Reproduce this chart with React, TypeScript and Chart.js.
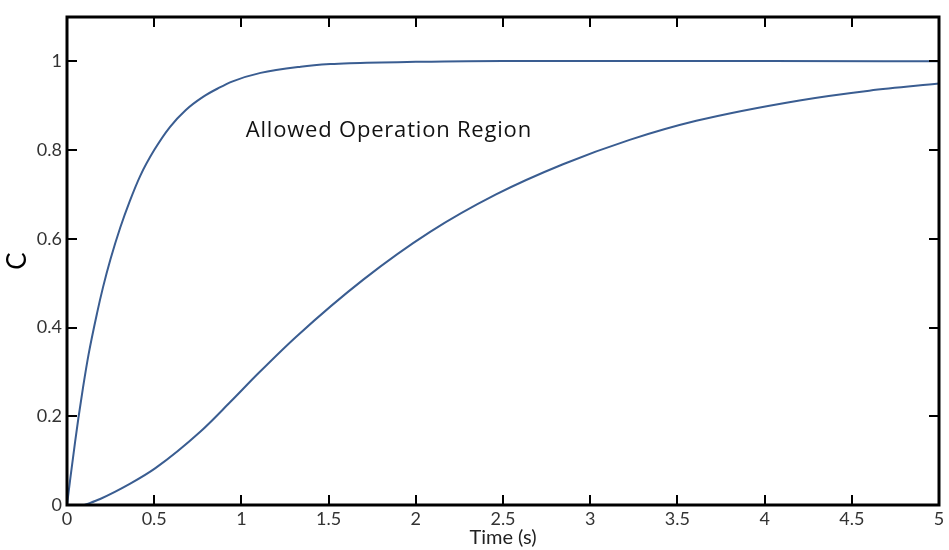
import React, { useEffect, useRef } from "react";
import { Chart, registerables } from "chart.js";

Chart.register(...registerables);

// Fast response (upper boundary)
const fastTimes = [0, 0.019, 0.047, 0.065, 0.092, 0.124, 0.172, 0.206, 0.25, 0.305, 0.36, 0.42, 0.5, 0.59, 0.68, 0.78, 0.87, 0.95, 1.11, 1.34, 1.51, 1.62, 2.0, 2.5, 3.0, 4.0, 5.0];
const fastValues = [0, 0.06, 0.144, 0.195, 0.265, 0.34, 0.432, 0.49, 0.555, 0.625, 0.685, 0.742, 0.8, 0.852, 0.89, 0.92, 0.94, 0.955, 0.974, 0.988, 0.994, 0.996, 0.999, 1.001, 1.001, 1.001, 1.0];

// Slow response (lower boundary)
const slowTimes = [0.1, 0.19, 0.36, 0.507, 0.764, 0.936, 1.1, 1.316, 1.699, 2.08, 2.46, 2.844, 3.226, 3.608, 4.2, 4.6, 5.0];
const slowValues = [0, 0.0135, 0.0475, 0.083, 0.165, 0.232, 0.298, 0.38, 0.508, 0.615, 0.7, 0.768, 0.823, 0.866, 0.912, 0.934, 0.95];

const xTicks = [0, 0.5, 1, 1.5, 2, 2.5, 3, 3.5, 4, 4.5, 5];
const yTicks = [0, 0.2, 0.4, 0.6, 0.8, 1];

const annotationText = "Allowed Operation Region";
const annotationPos = { x: 1.025, y: 0.844 };

const LINE_COLOR = "#3a5d91";
const FONT = "Lato, 'Open Sans', sans-serif";

const framePlugin = {
  id: "frameTicks",
  afterDatasetsDraw(chart: any) {
    const { ctx, chartArea } = chart;
    const xs = chart.scales.x;
    const ys = chart.scales.y;
    const { left, right, top, bottom } = chartArea;
    ctx.save();
    ctx.strokeStyle = "#000";
    ctx.lineWidth = 2;
    const len = 10;
    ctx.beginPath();
    xs.ticks.forEach((t: any) => {
      const px = Math.round(xs.getPixelForValue(t.value));
      ctx.moveTo(px, bottom);
      ctx.lineTo(px, bottom - len);
      ctx.moveTo(px, top);
      ctx.lineTo(px, top + len);
    });
    ys.ticks.forEach((t: any) => {
      const py = Math.round(ys.getPixelForValue(t.value));
      ctx.moveTo(left, py);
      ctx.lineTo(left + len, py);
      ctx.moveTo(right, py);
      ctx.lineTo(right - len, py);
    });
    ctx.stroke();
    ctx.lineWidth = 3;
    ctx.strokeRect(left, top, right - left, bottom - top);
    // annotation
    ctx.fillStyle = "#111";
    ctx.font = `22px 'Open Sans', sans-serif`;
    try {
      (ctx as any).letterSpacing = "0.8px";
    } catch (e) {}
    ctx.textAlign = "left";
    ctx.textBaseline = "middle";
    ctx.fillText(
      annotationText,
      xs.getPixelForValue(annotationPos.x),
      ys.getPixelForValue(annotationPos.y)
    );
    ctx.restore();
  },
};

export default function App() {
  const ref = useRef<HTMLCanvasElement | null>(null);
  useEffect(() => {
    document.body.style.margin = "0";
    const canvas = ref.current!;
    const chart = new Chart(canvas, {
      type: "line",
      data: {
        datasets: [
          {
            label: "Fast",
            data: fastTimes.map((t, i) => ({ x: t, y: fastValues[i] })),
            borderColor: LINE_COLOR,
            borderWidth: 2,
            pointRadius: 0,
            cubicInterpolationMode: "monotone",
            fill: false,
          },
          {
            label: "Slow",
            data: slowTimes.map((t, i) => ({ x: t, y: slowValues[i] })),
            borderColor: LINE_COLOR,
            borderWidth: 2,
            pointRadius: 0,
            cubicInterpolationMode: "monotone",
            fill: false,
          },
        ],
      },
      options: {
        responsive: false,
        animation: false,
        devicePixelRatio: 1,
        layout: { padding: { top: 17, right: 10, left: 0, bottom: 0 } },
        plugins: { legend: { display: false }, tooltip: { enabled: false } },
        scales: {
          x: {
            type: "linear",
            min: 0,
            max: 5,
            afterBuildTicks: (s: any) => {
              s.ticks = xTicks.map((v) => ({ value: v }));
            },
            afterFit: (s: any) => {
              s.height = 45;
            },
            grid: { display: false, drawTicks: false },
            border: { display: false },
            ticks: {
              color: "#333",
              padding: 3,
              maxRotation: 0,
              font: { family: FONT, size: 18 },
              callback: (v: any) => String(Math.round(Number(v) * 10) / 10),
            },
            title: {
              display: true,
              text: "Time (s)",
              color: "#222",
              font: { family: FONT, size: 20 },
              padding: { top: 0, bottom: 0 },
            },
          },
          y: {
            type: "linear",
            min: 0,
            max: 1.1,
            afterBuildTicks: (s: any) => {
              s.ticks = yTicks.map((v) => ({ value: v }));
            },
            afterFit: (s: any) => {
              s.width = 67;
            },
            grid: { display: false, drawTicks: false },
            border: { display: false },
            ticks: {
              color: "#333",
              padding: 5,
              font: { family: FONT, size: 18 },
              callback: (v: any) => String(Math.round(Number(v) * 10) / 10),
            },
            title: {
              display: true,
              text: "C",
              color: "#000",
              font: { family: FONT, size: 26 },
              padding: { top: 2, bottom: 0 },
            },
          },
        },
      },
      plugins: [framePlugin],
    });
    return () => chart.destroy();
  }, []);
  return (
    <div style={{ position: "absolute", left: 0, top: 0, width: 949, height: 550, background: "#fff" }}>
      <canvas ref={ref} width={949} height={550} />
    </div>
  );
}
